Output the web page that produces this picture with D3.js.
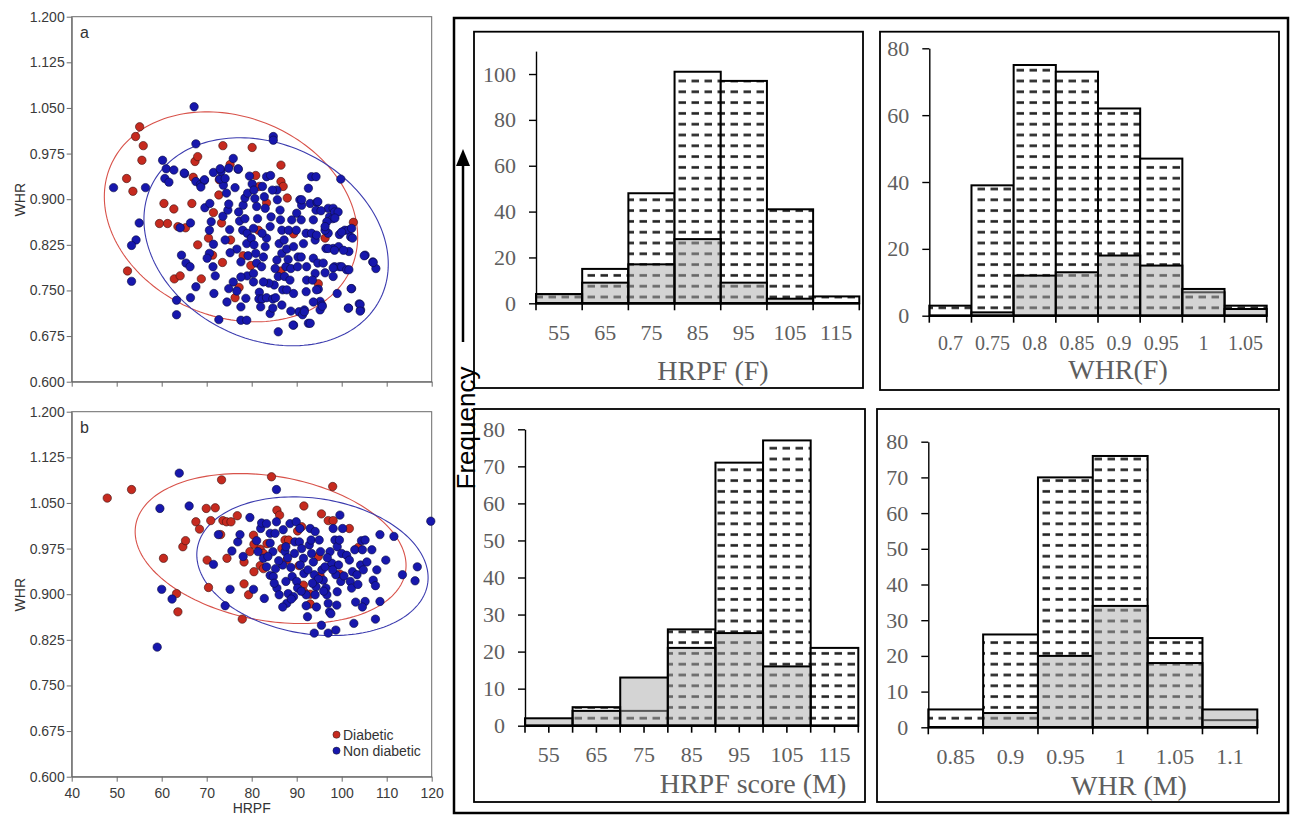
<!DOCTYPE html>
<html>
<head>
<meta charset="utf-8">
<script src="https://cdn.jsdelivr.net/npm/d3@7"></script>
<style>
  body { margin: 0; background: #fff; }
  svg { display: block; }
</style>
</head>
<body>
<svg id="chart" width="1295" height="816"></svg>
<script>
// ---- scatter data (HRPF, WHR) ----
const diabeticA = [[52.2,0.934],[53.6,0.913],[54.2,1.003],[55.1,1.019],[55.9,0.988],[55.6,0.964],[52.4,0.782],[60.5,0.893],[59.5,0.860],[61.3,0.860],[62.7,0.884],[63.6,0.855],[65.3,0.853],[66.7,0.893],[62.8,0.769],[64.1,0.774],[68.8,0.769],[68.0,0.825],[67.0,0.936],[67.4,0.962],[68.0,0.970],[73.6,0.988],[72.8,0.932],[72.7,0.907],[71.5,0.878],[73.3,0.861],[70.4,0.836],[71.3,0.808],[73.5,0.796],[75.3,0.833],[77.2,0.755],[76.3,0.738],[75.2,0.957],[80.1,0.985],[80.9,0.939],[81.7,0.921],[83.3,0.894],[81.5,0.849],[79.8,0.791],[86.5,0.956],[86.5,0.929],[87.9,0.902],[87.0,0.921],[89.3,0.843],[86.5,0.782],[94.8,0.761],[96.3,0.836],[102.6,0.862],[78.1,0.807]];

const nonDiabeticA = [[49.3,0.919],[56.4,0.919],[55.0,0.861],[54.3,0.833],[53.3,0.824],[53.3,0.765],[60.2,0.964],[67.2,1.052],[67.6,0.991],[63.3,0.734],[63.3,0.710],[64.4,0.808],[64.1,0.853],[66.4,0.738],[66.4,0.861],[65.4,0.795],[66.3,0.789],[67.6,0.756],[61.0,0.950],[60.7,0.934],[61.6,0.928],[62.7,0.948],[65.1,0.942],[67.6,0.929],[68.6,0.924],[69.5,0.931],[69.6,0.886],[70.7,0.893],[71.0,0.863],[70.6,0.849],[71.5,0.826],[70.6,0.811],[70.1,0.803],[71.4,0.789],[71.9,0.774],[71.6,0.745],[72.7,0.702],[74.5,0.731],[74.9,0.753],[75.9,0.764],[76.7,0.749],[77.6,0.723],[77.6,0.701],[78.9,0.701],[78.7,0.737],[79.0,0.774],[77.6,0.772],[79.2,0.807],[77.6,0.797],[76.7,0.818],[75.2,0.812],[74.1,0.833],[75.1,0.850],[73.6,0.872],[74.7,0.882],[74.9,0.892],[74.4,0.910],[73.7,0.923],[72.9,0.933],[71.5,0.944],[73.2,0.946],[74.9,0.951],[75.9,0.967],[77.0,0.949],[76.3,0.919],[77.1,0.879],[77.3,0.864],[78.5,0.868],[78.0,0.849],[79.0,0.844],[78.9,0.827],[78.1,0.890],[78.5,0.902],[79.1,0.910],[79.5,0.938],[80.1,0.925],[80.5,0.915],[80.7,0.901],[81.1,0.888],[81.3,0.868],[80.4,0.852],[79.9,0.836],[80.5,0.825],[80.9,0.811],[81.1,0.795],[80.4,0.778],[80.4,0.764],[81.7,0.747],[81.6,0.736],[82.3,0.736],[82.0,0.723],[83.3,0.738],[84.1,0.712],[84.7,0.721],[84.7,0.736],[85.3,0.738],[86.7,0.726],[85.0,0.759],[83.8,0.762],[82.6,0.764],[82.2,0.789],[82.6,0.805],[83.0,0.822],[83.3,0.836],[82.3,0.844],[84.1,0.855],[84.3,0.871],[83.0,0.885],[82.8,0.904],[82.4,0.921],[83.3,0.937],[84.2,0.939],[84.8,1.003],[84.8,0.997],[85.6,0.915],[84.6,0.915],[85.7,0.899],[86.3,0.882],[86.4,0.866],[86.7,0.849],[86.1,0.827],[86.7,0.811],[85.6,0.800],[85.2,0.786],[85.9,0.773],[87.3,0.773],[87.6,0.789],[86.9,0.751],[87.8,0.751],[88.5,0.767],[88.7,0.786],[88.1,0.801],[87.8,0.818],[87.2,0.833],[88.2,0.849],[88.9,0.866],[90.0,0.877],[89.9,0.849],[89.3,0.822],[90.3,0.805],[90.2,0.789],[89.3,0.745],[89.3,0.693],[90.5,0.715],[91.3,0.710],[91.7,0.718],[92.1,0.748],[92.2,0.767],[92.2,0.789],[91.0,0.805],[91.5,0.827],[92.1,0.844],[90.7,0.899],[91.1,0.890],[91.0,0.866],[92.6,0.918],[93.3,0.937],[94.3,0.937],[93.0,0.893],[94.5,0.895],[94.3,0.882],[93.7,0.866],[93.3,0.844],[94.1,0.833],[93.7,0.803],[94.7,0.795],[94.1,0.778],[93.5,0.767],[92.6,0.696],[94.8,0.752],[95.2,0.732],[95.6,0.726],[95.9,0.795],[96.5,0.819],[97.0,0.844],[97.3,0.871],[97.0,0.885],[96.3,0.849],[98.0,0.868],[98.1,0.885],[98.4,0.879],[98.1,0.819],[99.3,0.822],[98.4,0.789],[99.5,0.789],[100.0,0.789],[99.8,0.933],[99.5,0.842],[100.7,0.849],[101.5,0.849],[102.0,0.838],[101.6,0.814],[101.1,0.784],[102.2,0.753],[101.5,0.721],[104.2,0.718],[103.9,0.728],[105.2,0.808],[106.9,0.797],[107.6,0.786],[99.0,0.745],[95.2,0.718],
  [91.1,0.899],[94.7,0.896],[95.4,0.881],[99.2,0.879],[96.7,0.863],[96.3,0.855],[98.5,0.869],[102.2,0.852],[100.0,0.846],[102.4,0.836],[94.4,0.841],[97.0,0.819],[98.4,0.816],[100.4,0.816],[105.0,0.807],[107.0,0.796],[98.1,0.787],[101.6,0.784],[98.1,0.773],[96.3,0.779],[94.4,0.751],[102.1,0.753],[93.7,0.731],[95.7,0.724],[101.5,0.721],[104.1,0.727],[104.1,0.716],[93.0,0.696],[89.2,0.693],[85.9,0.682],[91.7,0.715],[88.7,0.716],
  [65.0,0.943],[69.5,0.932],[68.7,0.920],[73.0,0.950],[74.1,0.934],[77.0,0.950]];

const diabeticB = [[47.9,1.058],[53.3,1.072],[73.3,1.088],[84.4,1.093],[98.0,1.077],[60.4,0.959],[64.7,0.978],[65.3,0.988],[63.3,0.901],[63.6,0.871],[67.6,1.019],[68.4,1.007],[69.9,1.041],[70.9,1.021],[71.9,1.042],[73.6,1.021],[74.4,1.019],[75.4,1.019],[76.8,1.029],[73.1,0.998],[74.5,0.959],[70.1,0.956],[70.4,0.911],[78.3,0.917],[79.3,0.899],[77.9,0.859],[79.6,0.970],[80.4,0.997],[80.5,0.982],[78.3,0.953],[80.5,0.937],[81.9,0.974],[82.6,0.967],[81.9,0.947],[82.6,0.942],[85.6,1.038],[86.2,1.030],[87.4,0.989],[88.2,0.989],[87.8,0.956],[91.6,1.045],[91.1,1.011],[90.2,1.004],[95.5,1.032],[97.0,1.021],[98.1,1.021],[101.7,1.008],[103.7,0.977],[90.5,0.947],[91.5,0.915],[91.6,0.904],[93.0,0.900],[95.2,0.930],[93.0,0.884],[99.6,0.933],[86.7,0.975],[83.4,0.983],[94.8,0.962]];

const nonDiabeticB = [[63.9,1.099],[59.6,1.041],[66.1,1.045],[60.0,0.908],[62.3,0.892],[59.0,0.813],[71.5,0.949],[72.6,0.998],[74.1,0.881],[75.2,0.908],[75.6,0.971],[76.9,0.986],[77.4,0.998],[79.6,1.026],[78.1,0.962],[80.4,0.908],[81.1,0.988],[81.4,0.970],[82.0,1.008],[82.2,1.017],[83.3,1.016],[82.6,0.959],[83.3,0.945],[82.8,0.893],[84.1,1.000],[84.1,0.984],[84.7,0.970],[85.2,1.000],[85.5,1.019],[85.5,1.072],[84.1,0.931],[84.8,0.929],[85.3,0.942],[85.6,0.910],[86.1,0.899],[86.9,0.948],[87.0,1.006],[87.4,0.970],[87.6,0.978],[87.6,0.921],[87.8,0.885],[86.9,0.879],[88.1,0.901],[88.5,1.016],[88.7,0.944],[89.0,0.929],[89.3,0.896],[89.5,0.967],[89.6,0.986],[89.9,1.019],[90.0,0.921],[90.2,0.910],[90.6,0.986],[90.7,1.008],[91.1,0.975],[91.5,0.959],[91.6,0.934],[92.1,0.899],[92.1,0.881],[92.4,0.863],[92.8,0.981],[93.0,1.008],[93.2,0.989],[93.3,0.967],[93.7,0.953],[93.9,0.932],[94.1,1.003],[94.3,0.912],[94.4,0.879],[94.1,0.899],[93.9,0.836],[95.0,0.989],[95.3,0.970],[95.6,0.940],[95.9,0.923],[96.3,0.945],[96.5,0.910],[96.7,0.899],[97.0,0.885],[97.3,0.871],[97.6,0.868],[97.0,0.836],[97.4,0.970],[97.8,0.951],[98.1,1.008],[98.5,0.989],[99.0,0.978],[99.3,0.948],[99.6,1.030],[99.5,0.989],[98.7,0.932],[99.0,0.904],[99.8,0.921],[100.0,0.967],[100.2,1.008],[98.9,0.882],[98.7,0.841],[101.1,0.964],[101.7,0.956],[101.9,0.921],[102.2,0.910],[102.4,0.937],[102.9,0.973],[103.1,0.887],[102.7,0.852],[103.4,0.932],[103.6,0.916],[104.2,0.948],[104.6,0.973],[104.4,0.988],[105.2,0.989],[104.8,0.940],[105.2,0.888],[104.6,0.879],[105.6,0.953],[106.7,0.973],[107.0,0.923],[107.5,0.914],[107.8,0.940],[108.5,0.998],[108.5,0.888],[107.5,0.859],[109.8,0.956],[111.6,0.995],[113.5,0.932],[116.3,0.922],[116.8,0.945],[119.8,1.020],[95.5,0.849],
  [83.6,0.962],[86.0,0.955],[88.0,0.960],[90.8,0.948],[92.5,0.940],[94.8,0.925],[96.8,0.960],[98.0,0.940],[100.5,0.930],[91.0,0.905],[88.8,0.892],[85.0,0.918],[96.0,0.905],[93.5,0.918]];

// confidence ellipses: centre, half range in x and y, phase between x and y
const ellipseA = [
  { group: 'diabetic', cx: 75.4, cy: 0.871, ax: 28.15, by: 0.1726, phase: 101 },
  { group: 'non', cx: 83.2, cy: 0.830, ax: 27.15, by: 0.171, phase: 102.4 }
];
const ellipseB = [
  { group: 'diabetic', cx: 84.2, cy: 0.975, ax: 30.1, by: 0.1233, phase: 103 },
  { group: 'non', cx: 93.5, cy: 0.946, ax: 25.7, by: 0.114, phase: 99.5 }
];

const whrTicks = [0.6, 0.675, 0.75, 0.825, 0.9, 0.975, 1.05, 1.125, 1.2];
const hrpfTicks = [40, 50, 60, 70, 80, 90, 100, 110, 120];

// ---- histogram data ----
const hrpfBins = ['55', '65', '75', '85', '95', '105', '115'];
const hrpfFNon = [4, 15, 48, 101, 97, 41, 3];
const hrpfFDiab = [4, 9, 17, 28, 9, 2, 0];
const whrFBins = ['0.7', '0.75', '0.8', '0.85', '0.9', '0.95', '1', '1.05'];
const whrFNon = [3, 39, 75, 73, 62, 47, 7, 3];
const whrFDiab = [0, 1, 12, 13, 18, 15, 8, 2];
const hrpfMNon = [0, 5, 4, 26, 71, 77, 21];
const hrpfMDiab = [2, 4, 13, 21, 25, 16, 0];
const whrMBins = ['0.85', '0.9', '0.95', '1', '1.05', '1.1'];
const whrMNon = [5, 26, 70, 76, 25, 2];
const whrMDiab = [0, 4, 20, 34, 18, 5];

const colors = {
  diabetic: '#c62a1f',
  non: '#1717ad',
  diabeticLine: '#d8524a',
  nonLine: '#3c3caf'
};
const SANS = '"Liberation Sans", Arial, sans-serif';
const SERIF = '"Liberation Serif", "Times New Roman", serif';

const svg = d3.select('#chart');

// dash pattern for the non diabetic bars
const defs = svg.append('defs');
const pat = defs.append('pattern')
  .attr('id', 'dash')
  .attr('patternUnits', 'userSpaceOnUse')
  .attr('width', 13)
  .attr('height', 10.8);
pat.append('rect').attr('width', 13).attr('height', 10.8).attr('fill', '#fff');
pat.append('line')
  .attr('x1', 2.5).attr('x2', 10)
  .attr('y1', 5.4).attr('y2', 5.4)
  .attr('stroke', '#222').attr('stroke-width', 2.6);

/**
 * Scatter panel with two groups and their ellipses.
 */
const scatterPanel = (top, diab, non, ellipses, letter, showXLabels, showLegend) => {
  const x = d3.scaleLinear().domain([40, 120]).range([71.7, 431.7]);
  const y = d3.scaleLinear().domain([0.6, 1.2]).range([top + 365, top]);
  const g = svg.append('g').attr('class', 'scatter');

  g.append('rect')
    .attr('x', x(40)).attr('y', y(1.2))
    .attr('width', x(120) - x(40)).attr('height', y(0.6) - y(1.2))
    .attr('fill', 'none').attr('stroke', '#6a6a6a').attr('stroke-width', 1);

  const yAxis = g.append('g')
    .attr('transform', `translate(${x(40)},0)`)
    .call(d3.axisLeft(y).tickValues(whrTicks).tickFormat(d3.format('.3f'))
      .tickSize(5).tickSizeOuter(0).tickPadding(2));

  const xAxis = g.append('g')
    .attr('transform', `translate(0,${y(0.6)})`)
    .call(d3.axisBottom(x).tickValues(hrpfTicks)
      .tickFormat(showXLabels ? d3.format('d') : () => '')
      .tickSize(5).tickSizeOuter(0).tickPadding(6));

  [yAxis, xAxis].forEach(a => {
    a.select('.domain').attr('stroke', '#6a6a6a');
    a.selectAll('.tick line').attr('stroke', '#6a6a6a');
    a.selectAll('text')
      .attr('font-family', SANS)
      .attr('font-size', 14)
      .attr('fill', '#3a3a3a');
  });

  // ellipses
  const ts = d3.range(0, 2 * Math.PI, Math.PI / 90);
  const line = d3.line()
    .x(d => x(d[0]))
    .y(d => y(d[1]))
    .curve(d3.curveLinearClosed);
  ellipses.forEach(e => {
    const ph = e.phase * Math.PI / 180;
    const pts = ts.map(t => [e.cx + e.ax * Math.cos(t), e.cy + e.by * Math.cos(t - ph)]);
    g.append('path')
      .attr('d', line(pts))
      .attr('fill', 'none')
      .attr('stroke', e.group === 'diabetic' ? colors.diabeticLine : colors.nonLine)
      .attr('stroke-width', 1.1);
  });

  g.append('g').selectAll('circle')
    .data(diab)
    .join('circle')
    .attr('cx', d => x(d[0]))
    .attr('cy', d => y(d[1]))
    .attr('r', 4.2)
    .attr('fill', colors.diabetic)
    .attr('stroke', '#3a1010')
    .attr('stroke-width', 0.6);

  g.append('g').selectAll('circle')
    .data(non)
    .join('circle')
    .attr('cx', d => x(d[0]))
    .attr('cy', d => y(d[1]))
    .attr('r', 4.2)
    .attr('fill', colors.non)
    .attr('stroke', '#0b0b40')
    .attr('stroke-width', 0.6);

  g.append('text')
    .attr('x', 80).attr('y', top + 21)
    .attr('font-family', SANS).attr('font-size', 16).attr('fill', '#333')
    .text(letter);

  g.append('text')
    .attr('transform', `translate(25,${top + 183}) rotate(-90)`)
    .attr('text-anchor', 'middle')
    .attr('font-family', SANS).attr('font-size', 14).attr('fill', '#333')
    .text('WHR');

  if (showXLabels) {
    g.append('text')
      .attr('x', (x(40) + x(120)) / 2).attr('y', top + 401)
      .attr('text-anchor', 'middle')
      .attr('font-family', SANS).attr('font-size', 14).attr('fill', '#333')
      .text('HRPF');
  }

  if (showLegend) {
    const items = [['Diabetic', colors.diabetic], ['Non diabetic', colors.non]];
    items.forEach((it, i) => {
      const ly = top + 323 + i * 16;
      g.append('circle').attr('cx', 336.5).attr('cy', ly).attr('r', 3.6)
        .attr('fill', it[1]).attr('stroke', '#222').attr('stroke-width', 0.5);
      g.append('text').attr('x', 343).attr('y', ly).attr('dy', '0.35em')
        .attr('font-family', SANS).attr('font-size', 14).attr('fill', '#333')
        .text(it[0]);
    });
  }
};

scatterPanel(16.7, diabeticA, nonDiabeticA, ellipseA, 'a', false, false);
scatterPanel(411.7, diabeticB, nonDiabeticB, ellipseB, 'b', true, true);

// ---- right block: outer frame, Frequency label and arrow ----
svg.append('rect')
  .attr('x', 454).attr('y', 18).attr('width', 834).attr('height', 795)
  .attr('fill', 'none').attr('stroke', '#000').attr('stroke-width', 2.5);

svg.append('text')
  .attr('transform', 'translate(475,428) rotate(-90)')
  .attr('text-anchor', 'middle')
  .attr('font-family', SANS).attr('font-size', 26).attr('fill', '#000')
  .text('Frequency');

svg.append('line')
  .attr('x1', 463).attr('x2', 463).attr('y1', 342).attr('y2', 162)
  .attr('stroke', '#000').attr('stroke-width', 2.5);
svg.append('path')
  .attr('d', 'M463,149 L456,166 L470,166 Z')
  .attr('fill', '#000');

/**
 * Histogram panel: dashed bars for non diabetic, translucent grey on top for diabetic.
 */
const histPanel = (cfg) => {
  const g = svg.append('g').attr('class', 'hist');

  g.append('rect')
    .attr('x', cfg.box[0]).attr('y', cfg.box[1])
    .attr('width', cfg.box[2] - cfg.box[0]).attr('height', cfg.box[3] - cfg.box[1])
    .attr('fill', 'none').attr('stroke', '#000').attr('stroke-width', 1.8);

  const x = d3.scaleBand().domain(cfg.bins).range([cfg.x0, cfg.x1]).padding(0);
  const y = d3.scaleLinear().domain([0, cfg.yMax]).range([cfg.y0, cfg.yTop]);

  const nonData = cfg.bins.map((b, i) => ({ bin: b, v: cfg.non[i] }));
  const diabData = cfg.bins.map((b, i) => ({ bin: b, v: cfg.diab[i] }));

  g.append('g').selectAll('rect')
    .data(nonData)
    .join('rect')
    .attr('x', d => x(d.bin))
    .attr('y', d => y(d.v))
    .attr('width', x.bandwidth())
    .attr('height', d => y(0) - y(d.v))
    .attr('fill', 'url(#dash)')
    .attr('stroke', '#000')
    .attr('stroke-width', 2);

  g.append('g').selectAll('rect')
    .data(diabData)
    .join('rect')
    .attr('x', d => x(d.bin))
    .attr('y', d => y(d.v))
    .attr('width', x.bandwidth())
    .attr('height', d => y(0) - y(d.v))
    .attr('fill', '#a9a9a9')
    .attr('fill-opacity', 0.5)
    .attr('stroke', '#000')
    .attr('stroke-width', 2);

  // y axis
  const yAxis = g.append('g')
    .attr('transform', `translate(${cfg.x0},0)`)
    .call(d3.axisLeft(y).tickValues(cfg.yTicks).tickSize(7).tickSizeOuter(0).tickPadding(13));
  yAxis.select('.domain').attr('stroke', '#000').attr('stroke-width', 1.4);
  yAxis.selectAll('.tick line').attr('stroke', '#000').attr('stroke-width', 1.4);
  yAxis.selectAll('text')
    .attr('font-family', SERIF).attr('font-size', cfg.fs).attr('fill', '#5e5e5e');

  // x axis with ticks at bin edges
  g.append('line')
    .attr('x1', cfg.x0).attr('x2', cfg.x1)
    .attr('y1', y(0)).attr('y2', y(0))
    .attr('stroke', '#000').attr('stroke-width', 2.4);
  let tickXs = d3.range(cfg.bins.length + 1).map(i => cfg.x0 + i * x.bandwidth());
  if (cfg.midTicks) {
    tickXs = tickXs.concat(cfg.bins.map(b => x(b) + x.bandwidth() / 2));
  }
  g.append('g').selectAll('line')
    .data(tickXs)
    .join('line')
    .attr('x1', d => d).attr('x2', d => d)
    .attr('y1', y(0)).attr('y2', y(0) + 7)
    .attr('stroke', '#000').attr('stroke-width', 1.6);

  g.append('g').selectAll('text')
    .data(cfg.bins)
    .join('text')
    .attr('x', d => x(d) + x.bandwidth() / 2)
    .attr('y', y(0) + (cfg.xdy || 36.5))
    .attr('text-anchor', 'middle')
    .attr('font-family', SERIF).attr('font-size', cfg.xfs || cfg.fs).attr('fill', '#5e5e5e')
    .text(d => d);

  g.append('text')
    .attr('x', cfg.title[1]).attr('y', cfg.title[2])
    .attr('text-anchor', 'middle')
    .attr('font-family', SERIF).attr('font-size', 28).attr('fill', '#5e5e5e')
    .text(cfg.title[0]);
};

histPanel({
  box: [474, 31.7, 863, 388],
  bins: hrpfBins, non: hrpfFNon, diab: hrpfFDiab,
  x0: 536, x1: 859.3, y0: 303.3, yTop: 51.1, yMax: 110,
  yTicks: [0, 20, 40, 60, 80, 100], fs: 22,
  title: ['HRPF (F)', 713, 380]
});
histPanel({
  box: [880, 31.7, 1279, 390],
  bins: whrFBins, non: whrFNon, diab: whrFDiab,
  x0: 929.3, x1: 1266.7, y0: 315.7, yTop: 48.3, yMax: 80,
  yTicks: [0, 20, 40, 60, 80], fs: 22, xfs: 20, xdy: 34,
  title: ['WHR(F)', 1118, 379]
});
histPanel({
  box: [474, 409, 865, 802],
  bins: hrpfBins, non: hrpfMNon, diab: hrpfMDiab,
  x0: 525, x1: 858.3, y0: 725.7, yTop: 429.3, yMax: 80,
  yTicks: d3.range(0, 81, 10), fs: 22, midTicks: true,
  title: ['HRPF score (M)', 753, 793]
});
histPanel({
  box: [877, 409, 1279, 802],
  bins: whrMBins, non: whrMNon, diab: whrMDiab,
  x0: 928.3, x1: 1257.3, y0: 727.3, yTop: 441.7, yMax: 80,
  yTicks: d3.range(0, 81, 10), fs: 22,
  title: ['WHR (M)', 1129, 795]
});
</script>
</body>
</html>
